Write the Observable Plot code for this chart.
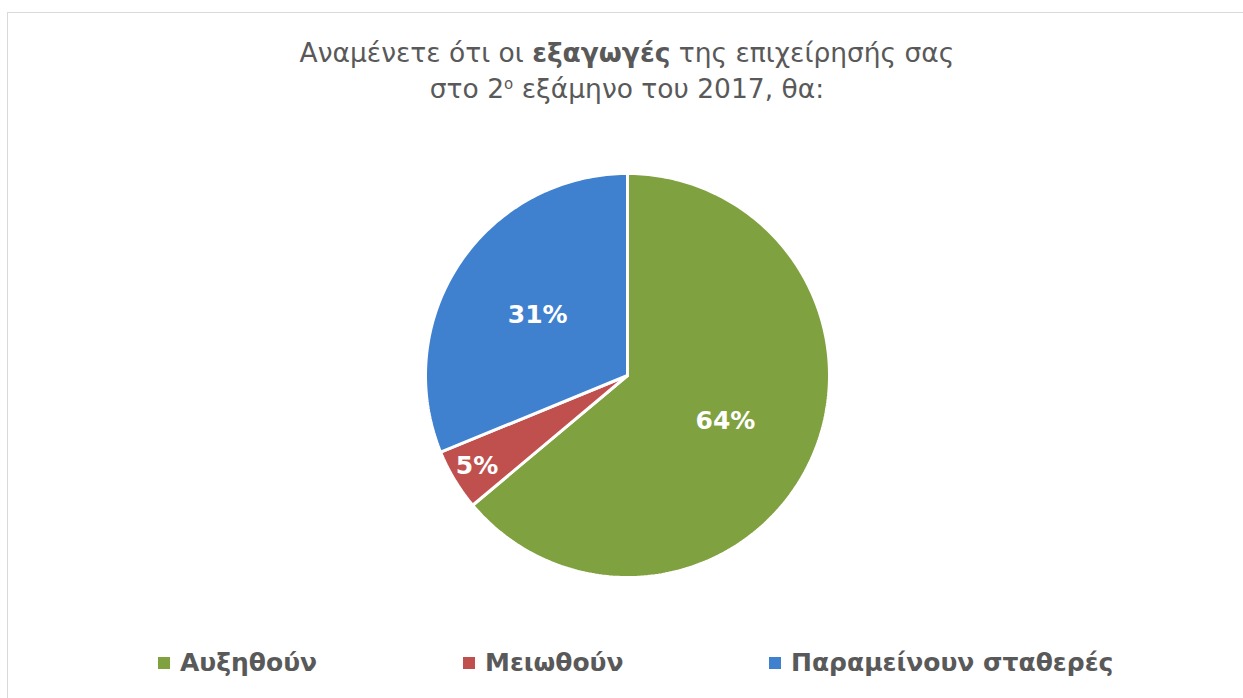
<!DOCTYPE html>
<html>
<head>
<meta charset="utf-8">
<script src="https://cdn.jsdelivr.net/npm/d3@7"></script>
<script src="https://cdn.jsdelivr.net/npm/@observablehq/plot@0.6"></script>
<style>
  html, body { margin: 0; padding: 0; background: #fff; width: 1243px; height: 698px; overflow: hidden; }
  body { position: relative; font-family: "DejaVu Sans", "Noto Sans", sans-serif; color: #595959; }
  #frame { position: absolute; left: 7px; top: 12px; width: 1260px; height: 720px; border: 1px solid #d9d9d9; box-sizing: border-box; }
  #title { position: absolute; left: 0; width: 1254px; top: 35px; text-align: center; font-size: 26.5px; line-height: 36px; font-weight: 400; color: #595959; }
  #title b { font-weight: 700; }
  #chart { position: absolute; left: 0; top: 160px; }
  #legend { position: absolute; top: 648px; left: 0; width: 1243px; height: 40px; }
  .item { position: absolute; top: 0; display: flex; align-items: center; font-size: 25px; font-weight: 700; color: #595959; white-space: nowrap; }
  .sw { width: 12px; height: 12px; margin-right: 10px; display: inline-block; }
</style>
</head>
<body>
<div id="frame"></div>
<div id="title">Αναμένετε ότι οι <b>εξαγωγές</b> της επιχείρησής σας<br>στο 2<sup style="font-size:15px;vertical-align:9px;line-height:0">ο</sup> εξάμηνο του 2017, θα:</div>
<div id="chart"></div>
<div id="legend"></div>
<script>
// ---- data ----
const categories = ["Αυξηθούν", "Μειωθούν", "Παραμείνουν σταθερές"];
const shares = [63.9, 4.9, 31.2];
const colors = ["#80A140", "#C0504D", "#3F81CF"];
const legendX = [158, 463, 769];

// ---- build slices ----
const pie = d3.pie().sort(null).value(d => d)(shares);
const outline = [];
const labels = [];
pie.forEach((p, i) => {
  const cat = categories[i];
  outline.push({cat, x: 0, y: 0});
  const steps = Math.max(2, Math.ceil((p.endAngle - p.startAngle) / (Math.PI / 180)));
  for (let k = 0; k <= steps; k++) {
    const a = p.startAngle + (p.endAngle - p.startAngle) * k / steps;
    outline.push({cat, x: Math.sin(a), y: Math.cos(a)});
  }
  outline.push({cat, x: 0, y: 0});
  const mid = (p.startAngle + p.endAngle) / 2;
  const r = shares[i] < 10 ? 0.87 : 0.535;
  labels.push({cat, x: r * Math.sin(mid), y: r * Math.cos(mid), text: Math.round(shares[i]) + "%"});
});

const cx = 627, cy = 215, R = 202;
const chart = Plot.plot({
  width: 1243,
  height: 430,
  margin: 0,
  x: {domain: [-1, 1], range: [cx - R, cx + R], axis: null},
  y: {domain: [-1, 1], range: [cy + R, cy - R], axis: null},
  color: {domain: categories, range: colors},
  marks: [
    Plot.line(outline, {x: "x", y: "y", z: "cat", fill: "cat", stroke: "white", strokeWidth: 3, strokeLinejoin: "miter", curve: "linear"}),
    Plot.text(labels, {x: "x", y: "y", text: "text", fill: "white", fontSize: 25, fontWeight: "bold", fontFamily: "DejaVu Sans, Noto Sans, sans-serif"})
  ]
});
document.getElementById("chart").appendChild(chart);

// ---- legend ----
const leg = document.getElementById("legend");
categories.forEach((c, i) => {
  const d = document.createElement("div");
  d.className = "item";
  d.style.left = legendX[i] + "px";
  d.innerHTML = `<span class="sw" style="background:${colors[i]}"></span>${c}`;
  leg.appendChild(d);
});
</script>
</body>
</html>
